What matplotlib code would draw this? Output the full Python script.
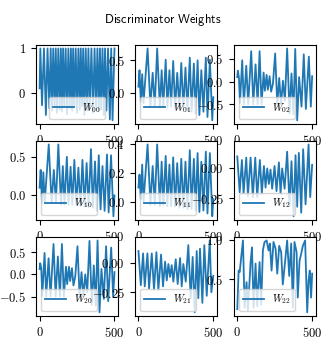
"""
Discriminator weights, one small line plot per matrix entry.
"""
import matplotlib
matplotlib.use('Agg')
import matplotlib.pyplot as plt

plt.rcParams['mathtext.fontset'] = 'cm'
plt.rcParams['font.size'] = 9

x00 = [0, 5, 16, 29, 42, 53, 65, 74, 83, 91, 100, 108, 116, 125, 134, 142, 150, 157, 165, 174,
       183, 192, 201, 209, 217, 224, 232, 241, 250, 259, 268, 275, 283, 291, 299, 308, 317, 326, 335, 346,
       357, 367, 377, 386, 395, 403, 411, 420, 429, 437, 446, 457, 469, 478, 487, 500]
y00 = [0.1, 1.0, -0.28, 1.0, -0.5, 1.0, -0.35, 1.0, -0.4, 1.0, -0.3, 1.0, -0.45, 1.0, -0.38, 1.0,
       -0.42, 1.0, -0.3, 1.0, -0.48, 1.0, -0.35, 1.0, -0.4, 1.0, -0.33, 1.0, -0.45, 1.0, -0.38, 1.0,
       -0.3, 1.0, -0.5, 1.0, -0.4, 1.0, -0.35, 1.0, -0.45, 1.0, -0.3, 1.0, -0.42, 1.0, -0.38, 1.0,
       -0.5, 1.0, -0.4, 1.0, -0.6, 1.0, -0.62, 1.0]

x01 = [0, 7, 16, 25, 34, 61, 80, 95, 109, 125, 143, 155, 166, 182, 193, 207, 218, 232, 245, 259,
       273, 286, 300, 314, 327, 343, 355, 370, 382, 395, 407, 420, 434, 450, 461, 477, 493, 500]
y01 = [0.1, 0.35, -0.13, 0.29, -0.15, 0.68, -0.2, 0.31, -0.2, 0.68, -0.22, 0.35, -0.2, 0.51, -0.22,
       0.35, -0.2, 0.49, -0.22, 0.31, -0.22, 0.46, -0.22, 0.39, -0.26, 0.54, -0.28, 0.45, -0.31, 0.5,
       -0.33, 0.35, -0.28, 0.54, -0.36, 0.51, -0.41, -0.06]
y10 = [0.1, 0.33, -0.1, 0.3, -0.1, 0.66, -0.1, 0.33, -0.1, 0.66, -0.12, 0.38, -0.12, 0.5, -0.12,
       0.37, -0.12, 0.46, -0.12, 0.36, -0.14, 0.46, -0.14, 0.42, -0.15, 0.6, -0.16, 0.44, -0.2, 0.52,
       -0.18, 0.38, -0.2, 0.53, -0.22, 0.52, -0.27, 0.0]
y11 = [0.1, 0.19, 0.02, 0.26, 0.0, 0.4, -0.02, 0.25, -0.02, 0.4, -0.03, 0.28, -0.02, 0.32, -0.03,
       0.26, -0.03, 0.31, -0.03, 0.27, -0.04, 0.3, -0.04, 0.28, -0.05, 0.36, -0.05, 0.3, -0.06, 0.34,
       -0.07, 0.28, -0.06, 0.35, -0.08, 0.34, -0.1, 0.02]

x20 = [0, 4, 11, 18, 33, 44, 60, 73, 93, 107, 122, 136, 149, 162, 176, 184, 196, 204, 216, 226,
       238, 253, 267, 280, 292, 305, 318, 333, 349, 362, 375, 387, 400, 413, 429, 444, 458, 478, 491, 500]
y20 = [0.12, 0.25, 0.14, -0.48, 0.48, -0.5, 0.36, -0.5, 0.68, -0.5, 0.4, -0.5, 0.68, -0.5, 0.17,
       -0.22, 0.17, -0.15, 0.14, -0.25, -0.05, 0.63, -0.5, 0.05, -0.5, 0.0, -0.4, 0.75, -0.68, 0.2,
       -0.7, 0.76, -0.85, 0.12, -0.55, 0.63, -0.6, 0.6, -0.5, 0.05]
y02 = [0.1, 0.24, 0.09, -0.47, 0.47, -0.5, 0.35, -0.5, 0.67, -0.5, 0.38, -0.5, 0.67, -0.5, 0.2,
       -0.2, 0.15, -0.18, 0.12, -0.22, -0.05, 0.62, -0.5, 0.08, -0.5, 0.02, -0.42, 0.73, -0.7, 0.18,
       -0.72, 0.72, -0.85, 0.1, -0.55, 0.6, -0.6, 0.55, -0.55, 0.12]

x12 = [0, 16, 31, 42, 60, 71, 89, 104, 120, 133, 151, 164, 178, 189, 200, 211, 222, 233, 249, 262,
       278, 289, 300, 316, 333, 349, 362, 376, 389, 400, 411, 427, 440, 456, 476, 487, 500]
y12 = [0.1, -0.2, 0.07, -0.21, 0.09, -0.23, 0.09, -0.24, 0.09, -0.24, 0.07, -0.21, 0.02, -0.16,
       0.0, -0.13, -0.01, -0.17, 0.02, -0.19, 0.05, -0.21, 0.0, -0.17, 0.14, -0.31, 0.06, -0.4,
       0.11, -0.32, 0.13, -0.37, 0.16, -0.3, 0.2, -0.24, 0.03]
y21 = [0.1, -0.19, 0.08, -0.2, 0.08, -0.22, 0.08, -0.23, 0.09, -0.23, 0.07, -0.2, 0.01, -0.15,
       -0.01, -0.12, -0.02, -0.16, 0.03, -0.18, 0.04, -0.2, -0.01, -0.16, 0.15, -0.3, 0.05, -0.42,
       0.1, -0.3, 0.12, -0.34, 0.15, -0.28, 0.19, -0.25, -0.11]

x22 = [0, 9, 16, 38, 49, 62, 71, 89, 98, 109, 122, 133, 149, 160, 171, 182, 196, 209, 218, 229,
       242, 256, 267, 280, 293, 304, 320, 333, 347, 360, 371, 382, 396, 404, 416, 427, 438, 453, 467,
       476, 484, 493, 500]
y22 = [0.11, 0.61, 0.59, 1.0, 0.13, 0.46, 0.09, 0.72, 0.91, 0.13, 0.7, 0.15, 0.72, 0.17, 0.87,
       0.98, 1.0, 0.87, 0.96, 0.61, 0.98, 0.89, 0.57, 0.93, 0.85, 0.43, 0.74, 1.0, 0.54, 0.96, 0.13,
       0.98, 0.85, 0.26, 0.74, 0.83, 0.93, 1.0, 0.07, 0.48, 0.61, 0.26, 0.57]

labels = [['00', '01', '02'], ['10', '11', '12'], ['20', '21', '22']]
series = [[(x00, y00), (x01, y01), (x20, y02)],
          [(x01, y10), (x01, y11), (x12, y12)],
          [(x20, y20), (x12, y21), (x22, y22)]]
yticks = [[['0', '1'], ['0.0', '0.5'], ['-0.5', '0.0', '0.5']],
          [['0.0', '0.5'], ['0.0', '0.2', '0.4'], ['-0.25', '0.00']],
          [['-0.5', '0.0', '0.5'], ['-0.25', '0.00'], ['0.5', '1.0']]]
xticks = [0, 500]

fig, axes = plt.subplots(3, 3, figsize=(3.26, 3.4), dpi=100)
fig.subplots_adjust(left=0.11, right=0.969, top=0.868, bottom=0.071, wspace=0.2, hspace=0.215)

for i in range(3):
    for j in range(3):
        ax = axes[i][j]
        xs, ys = series[i][j]
        ax.plot(xs, ys, color='#1f77b4', lw=1.3, label=r'$W_{%s}$' % labels[i][j])
        ax.set_xticks(xticks, labels=['$%d$' % t for t in xticks])
        ticks = yticks[i][j]
        ax.set_yticks([float(t) for t in ticks], labels=['$%s$' % t for t in ticks])
        ax.tick_params(labelsize=9)
        ax.legend(loc='lower center' if (i, j) == (0, 0) else 'lower left', fontsize=7.5)

fig.suptitle(r'$\mathsf{Discriminator\ Weights}$', fontsize=9, y=0.965)
plt.savefig('out.png', dpi=100)
